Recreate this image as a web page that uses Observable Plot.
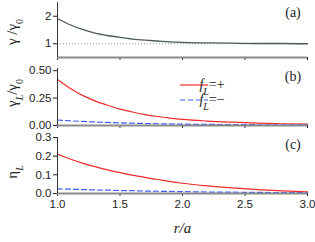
<!DOCTYPE html>
<html><head><meta charset="utf-8">
<script src="https://cdn.jsdelivr.net/npm/d3@7"></script>
<script src="https://cdn.jsdelivr.net/npm/@observablehq/plot@0.6"></script>
<style>
body{margin:0;background:#fff;}
#wrap{position:relative;width:315px;height:242px;overflow:hidden;background:#fff;}
#wrap svg{position:absolute;left:0;}
</style></head><body>
<div id="wrap"></div>
<script>
// r/a sample positions
const rVals = [1.0,1.1,1.2,1.3,1.4,1.5,1.6,1.7,1.8,1.9,2.0,2.2,2.4,2.6,2.8,3.0];
// (a) gamma/gamma0
const gammaRatio = [1.92,1.69,1.52,1.39,1.30,1.23,1.17,1.13,1.10,1.07,1.05,1.03,1.02,1.01,1.01,1.00];
// (b) gammaL/gamma0
const gammaLPlus  = [0.42,0.34,0.275,0.225,0.185,0.150,0.123,0.100,0.082,0.067,0.055,0.040,0.030,0.022,0.016,0.012];
const gammaLMinus = [0.050,0.043,0.037,0.032,0.028,0.024,0.021,0.018,0.016,0.014,0.012,0.010,0.008,0.007,0.006,0.005];
// (c) eta_L
const etaPlus  = [0.210,0.185,0.163,0.144,0.127,0.112,0.098,0.086,0.075,0.064,0.055,0.041,0.030,0.021,0.014,0.009];
const etaMinus = [0.025,0.023,0.021,0.019,0.018,0.016,0.015,0.013,0.012,0.011,0.010,0.008,0.007,0.006,0.005,0.004];
const xTicks = [1.0,1.5,2.0,2.5,3.0];
const yTicksA = [1,2];
const yTicksB = [0,0.25,0.5];
const yTicksC = [0,0.1,0.2,0.3];

const tA = rVals.map((r,i)=>({r, v:gammaRatio[i]}));
const tBp = rVals.map((r,i)=>({r, v:gammaLPlus[i]}));
const tBm = rVals.map((r,i)=>({r, v:gammaLMinus[i]}));
const tCp = rVals.map((r,i)=>({r, v:etaPlus[i]}));
const tCm = rVals.map((r,i)=>({r, v:etaMinus[i]}));

const RED = "#f22a2a", BLUE = "#3d5cff", GREY = "#4c5a5a";
const common = {
  width: 315, marginLeft: 57, marginRight: 8,
  style: {fontFamily: "Liberation Sans, Arial, sans-serif", fontSize: "11.5px", color: "#222", background: "transparent"}
};
const wrap = document.getElementById("wrap");

function axisLines(yMin){
  return [
    Plot.ruleY([yMin], {stroke: "#8a8a8a", strokeWidth: 2}),
    Plot.ruleX([1.0], {stroke: "#333", strokeWidth: 1})
  ];
}

// Panel (a)
const pa = Plot.plot({
  ...common, height: 60, marginTop: 2, marginBottom: 3,
  x: {domain: [1,3], ticks: xTicks, tickSize: 3, tickFormat: () => "", label: null},
  y: {domain: [0.5,2.5], ticks: yTicksA, tickSize: 4, tickPadding: 2, tickFormat: d3.format("d"), label: null},
  marks: [
    Plot.ruleY([1], {stroke: "#999", strokeDasharray: "1,2"}),
    Plot.line(tA, {x: "r", y: "v", stroke: GREY, strokeWidth: 1.3, curve: "monotone-x"}),
    ...axisLines(0.5)
  ]
});
pa.style.top = "0px";
wrap.appendChild(pa);

// Panel (b)
const pb = Plot.plot({
  ...common, height: 70, marginTop: 8, marginBottom: 5,
  x: {domain: [1,3], ticks: xTicks, tickSize: 3, tickFormat: () => "", label: null},
  y: {domain: [0,0.52], ticks: yTicksB, tickSize: 4, tickPadding: 2, tickFormat: d3.format(".2f"), label: null},
  marks: [
    Plot.line(tBp, {x: "r", y: "v", stroke: RED, strokeWidth: 1.2, curve: "monotone-x"}),
    Plot.line(tBm, {x: "r", y: "v", stroke: BLUE, strokeWidth: 1.2, strokeDasharray: "5,3", curve: "monotone-x"}),
    ...axisLines(0)
  ]
});
pb.style.top = "60px";
wrap.appendChild(pb);

// Panel (c)
const pc = Plot.plot({
  ...common, height: 112, marginTop: 7, marginBottom: 49,
  x: {domain: [1,3], ticks: xTicks, tickSize: 3, tickPadding: 3, tickFormat: d3.format(".1f"), label: null},
  y: {domain: [0,0.3], ticks: yTicksC, tickSize: 4, tickPadding: 2, tickFormat: d3.format(".1f"), label: null},
  marks: [
    Plot.line(tCp, {x: "r", y: "v", stroke: RED, strokeWidth: 1.2, curve: "monotone-x"}),
    Plot.line(tCm, {x: "r", y: "v", stroke: BLUE, strokeWidth: 1.2, strokeDasharray: "5,3", curve: "monotone-x"}),
    ...axisLines(0),
    Plot.text(["r/a"], {text: d => d, frameAnchor: "bottom", dy: 39, fontStyle: "italic", fontFamily: "Liberation Serif, serif", fontSize: 15, fill: "#222"})
  ]
});
pc.style.top = "130px";
wrap.appendChild(pc);

// Text annotations with subscripts
const SERIF = "Liberation Serif, Times New Roman, serif";
function ylabel(svg, cx, cy, parts){
  const t = d3.select(svg).append("text")
    .attr("transform", `translate(${cx},${cy}) rotate(-90)`)
    .attr("text-anchor", "middle")
    .attr("font-family", SERIF).attr("font-size", 15).attr("fill", "#222");
  parts.forEach(p => {
    const s = t.append("tspan").text(p.t);
    if (p.sub) s.attr("font-size", 10).attr("baseline-shift", "sub");
    if (p.it) s.attr("font-style", "italic");
  });
}
ylabel(pa, 17, 32, [{t:"γ /γ"},{t:"0", sub:true}]);
ylabel(pb, 17, 33, [{t:"γ"},{t:"L", sub:true, it:true},{t:"/γ"},{t:"0", sub:true}]);
ylabel(pc, 17, 42, [{t:"η"},{t:"L", sub:true, it:true}]);

function plabel(svg, x, y, s){
  d3.select(svg).append("text").attr("x", x).attr("y", y).attr("text-anchor", "middle")
    .attr("font-family", SERIF).attr("font-size", 14).attr("fill", "#222").text(s);
}
plabel(pa, 293, 17, "(a)");
plabel(pb, 293, 21, "(b)");
plabel(pc, 293, 19, "(c)");

// Legend in panel (b)
const legend = [{label:"+", color: RED, dash: null, y: 25}, {label:"−", color: BLUE, dash: "5,3", y: 40}];
const lg = d3.select(pb).append("g");
legend.forEach(d => {
  lg.append("line").attr("x1", 180).attr("x2", 208).attr("y1", d.y).attr("y2", d.y)
    .attr("stroke", d.color).attr("stroke-width", 1.2).attr("stroke-dasharray", d.dash);
  const t = lg.append("text").attr("x", 212).attr("y", d.y + 4)
    .attr("font-family", SERIF).attr("font-size", 14).attr("fill", "#222");
  t.append("tspan").attr("font-style", "italic").text("f");
  t.append("tspan").attr("font-style", "italic").attr("font-size", 10).attr("baseline-shift", "sub").text("L");
  t.append("tspan").text("=" + d.label);
});
</script>
</body></html>
